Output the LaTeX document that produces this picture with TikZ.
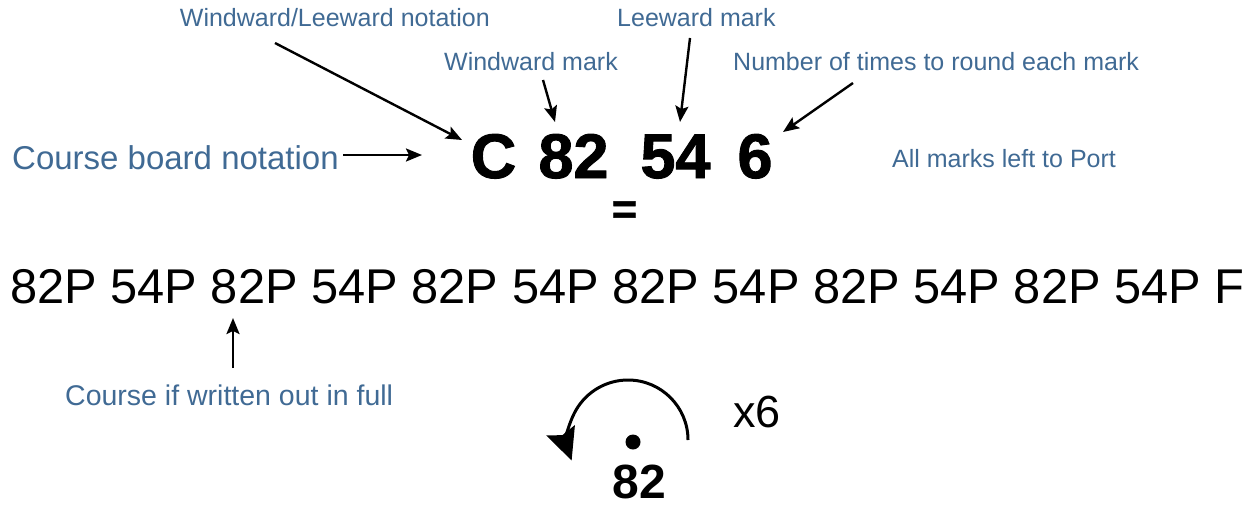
\documentclass[tikz,border=0pt]{standalone}
\usepackage{fontspec}
\setmainfont{Liberation Sans}
\newfontfamily\heavyfont{Liberation Sans}[BoldFeatures={FakeBold=1.5}]
\usetikzlibrary{arrows.meta}

\definecolor{noteblue}{RGB}{64,106,148}

\begin{document}
\begin{tikzpicture}[x=1pt, y=-1pt]

    % --- Styles ---
    \tikzset{
        % blue annotations
        note/.style={
            text=noteblue,
            inner sep=0pt,
            font=\fontsize{25}{30}\selectfont
        },
        bignote/.style={
            note,
            font=\fontsize{33}{40}\selectfont
        },
        midnote/.style={
            note,
            font=\fontsize{28.5}{34}\selectfont
        },
        % course board characters
        boardmark/.style={
            inner sep=0pt,
            anchor=base,
            font=\heavyfont\bfseries\fontsize{63}{70}\selectfont
        },
        % written out course
        courseline/.style={
            inner sep=0pt,
            font=\fontsize{48.8}{56}\selectfont
        },
        % arrows
        pointer/.style={
            line width=2.4pt,
            -{Stealth[length=16pt, width=13pt, inset=3pt]}
        },
        turnline/.style={
            line width=3pt,
            -{Stealth[length=32pt, width=30pt, inset=5pt]}
        }
    }

    \useasboundingbox (0,0) rectangle (1252,506);

    % --- 1. Course board notation ---
    \node[boardmark] (markC) at (493.5,178) {C};
    \node[boardmark] (mark82) at (573.5,178) {82};
    \node[boardmark] (mark54) at (675.5,178) {54};
    \node[boardmark] (mark6) at (755,178) {6};
    \node[inner sep=0pt, font=\heavyfont\bfseries\fontsize{43}{48}\selectfont] (equals) at (624.5,212.5) {=};

    % --- 2. Labels ---
    \node[note, anchor=base east] (wlnote) at (490,27) {Windward/Leeward notation};
    \node[note, anchor=base west] (lwnote) at (617,27) {Leeward mark};
    \node[note, anchor=base east] (wwnote) at (618,70) {Windward mark};
    \node[note, anchor=base west] (numnote) at (733,70) {Number of times to round each mark};
    \node[bignote, anchor=base west] (cbnote) at (12,169) {Course board notation};
    \node[note, anchor=base west] (portnote) at (892,167) {All marks left to Port};

    % --- 3. Course written out ---
    \node[courseline, anchor=base west] (fullcourse) at (10,303)
        {82P 54P 82P 54P 82P 54P 82P 54P 82P 54P 82P 54P F};
    \node[midnote, anchor=base west] (fullnote) at (65,405) {Course if written out in full};

    % --- 4. Rounding symbol ---
    \fill (633,442) circle[radius=7.5pt];
    \node[inner sep=0pt, anchor=base, font=\bfseries\fontsize{48}{56}\selectfont] (roundmark) at (639,498) {82};
    \node[inner sep=0pt, anchor=base west, font=\fontsize{45}{52}\selectfont] (times) at (733,427) {x6};

    % --- 5. Arrows ---
    \coordinate (wl-tail) at (275,43);
    \coordinate (wl-tip) at (462,140);
    \coordinate (ww-tail) at (543,80);
    \coordinate (ww-tip) at (555,122);
    \coordinate (lw-tail) at (690,38);
    \coordinate (lw-tip) at (680,122);
    \coordinate (num-tail) at (853,83);
    \coordinate (num-tip) at (783,132);
    \coordinate (cb-tail) at (343,155);
    \coordinate (cb-tip) at (422,155);
    \coordinate (full-tail) at (233,368);
    \coordinate (full-tip) at (233,318);
    \coordinate (turn-start) at (688,440);

    \draw[pointer] (wl-tail) -- (wl-tip);
    \draw[pointer] (ww-tail) -- (ww-tip);
    \draw[pointer] (lw-tail) -- (lw-tip);
    \draw[pointer] (num-tail) -- (num-tip);
    \draw[pointer] (cb-tail) -- (cb-tip);
    \draw[pointer] (full-tail) -- (full-tip);

    % one rounding of the mark, to Port
    \draw[turnline] (turn-start) arc[start angle=0, end angle=-200, radius=60];

\end{tikzpicture}
\end{document}
